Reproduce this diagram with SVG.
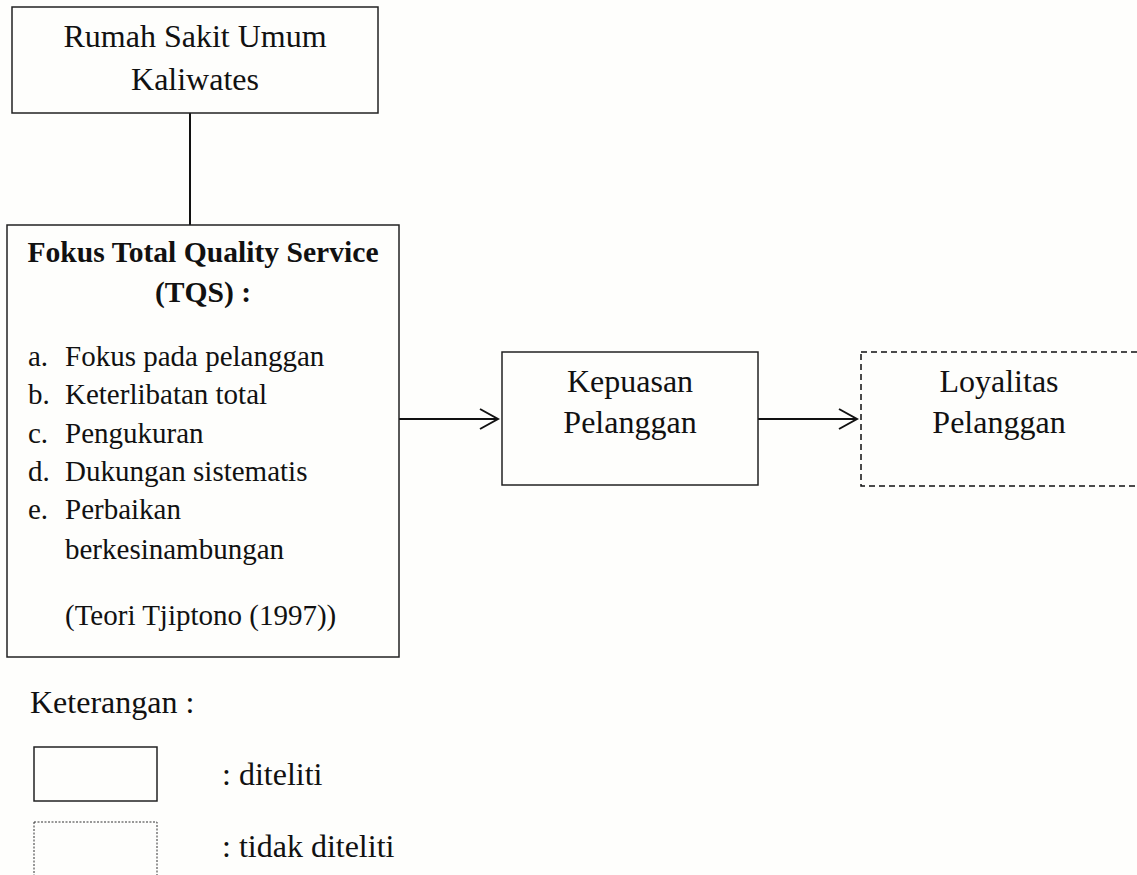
<svg xmlns="http://www.w3.org/2000/svg" width="1137" height="875" viewBox="0 0 1137 875">
<defs>
<style>
.box{fill:none;stroke:#222;stroke-width:1.5}
.dash{fill:none;stroke:#111;stroke-width:1.5;stroke-dasharray:6 4}
.dot{fill:none;stroke:#333;stroke-width:1;stroke-dasharray:2 1.5}
.t{font-family:"Liberation Serif","Times New Roman",serif;font-size:32px;fill:#111}
.s{font-size:29px}
.c{text-anchor:middle}
.b{font-weight:bold;font-size:29.6px}
.ln{stroke:#111;stroke-width:2;fill:none}
</style>
<marker id="arr" markerWidth="22" markerHeight="24" refX="20" refY="12" orient="auto" markerUnits="userSpaceOnUse">
<path d="M2 2 L20 12 L2 22" fill="none" stroke="#111" stroke-width="2"/>
</marker>
</defs>
<rect width="1137" height="875" fill="#fefefc"/>
<g id="connectors">
<line class="ln" x1="190" y1="113" x2="190" y2="225"/>
<line class="ln" x1="399" y1="419" x2="498" y2="419" marker-end="url(#arr)"/>
<line class="ln" x1="758" y1="419" x2="857" y2="419" marker-end="url(#arr)"/>
</g>
<g id="rs">
<rect class="box" x="12" y="7" width="366" height="106"/>
<text class="t c" x="195" y="47">Rumah Sakit Umum</text>
<text class="t c" x="195" y="90">Kaliwates</text>
</g>
<g id="tqs">
<rect class="box" x="7" y="225" width="392" height="432"/>
<text class="t c b" x="203" y="262">Fokus Total Quality Service</text>
<text class="t c b" x="203" y="302">(TQS) :</text>
<text class="t s" x="28" y="366">a.</text><text class="t s" x="65" y="366">Fokus pada pelanggan</text>
<text class="t s" x="28" y="404">b.</text><text class="t s" x="65" y="404">Keterlibatan total</text>
<text class="t s" x="28" y="443">c.</text><text class="t s" x="65" y="443">Pengukuran</text>
<text class="t s" x="28" y="481">d.</text><text class="t s" x="65" y="481">Dukungan sistematis</text>
<text class="t s" x="28" y="519">e.</text><text class="t s" x="65" y="519">Perbaikan</text>
<text class="t s" x="65" y="559">berkesinambungan</text>
<text class="t s" x="65" y="625">(Teori Tjiptono (1997))</text>
</g>
<g id="kepuasan">
<rect class="box" x="502" y="352" width="256" height="133"/>
<text class="t c" x="630" y="392">Kepuasan</text>
<text class="t c" x="630" y="433">Pelanggan</text>
</g>
<g id="loyalitas">
<rect class="dash" x="861" y="352" width="290" height="134"/>
<text class="t c" x="999" y="392">Loyalitas</text>
<text class="t c" x="999" y="433">Pelanggan</text>
</g>
<g id="legend">
<text class="t" x="30" y="713">Keterangan :</text>
<rect class="box" x="34" y="747" width="123" height="54" stroke-width="1"/>
<text class="t" x="222" y="785">: diteliti</text>
<rect class="dot" x="34" y="822" width="123" height="60"/>
<text class="t" x="222" y="857">: tidak diteliti</text>
</g>
</svg>
